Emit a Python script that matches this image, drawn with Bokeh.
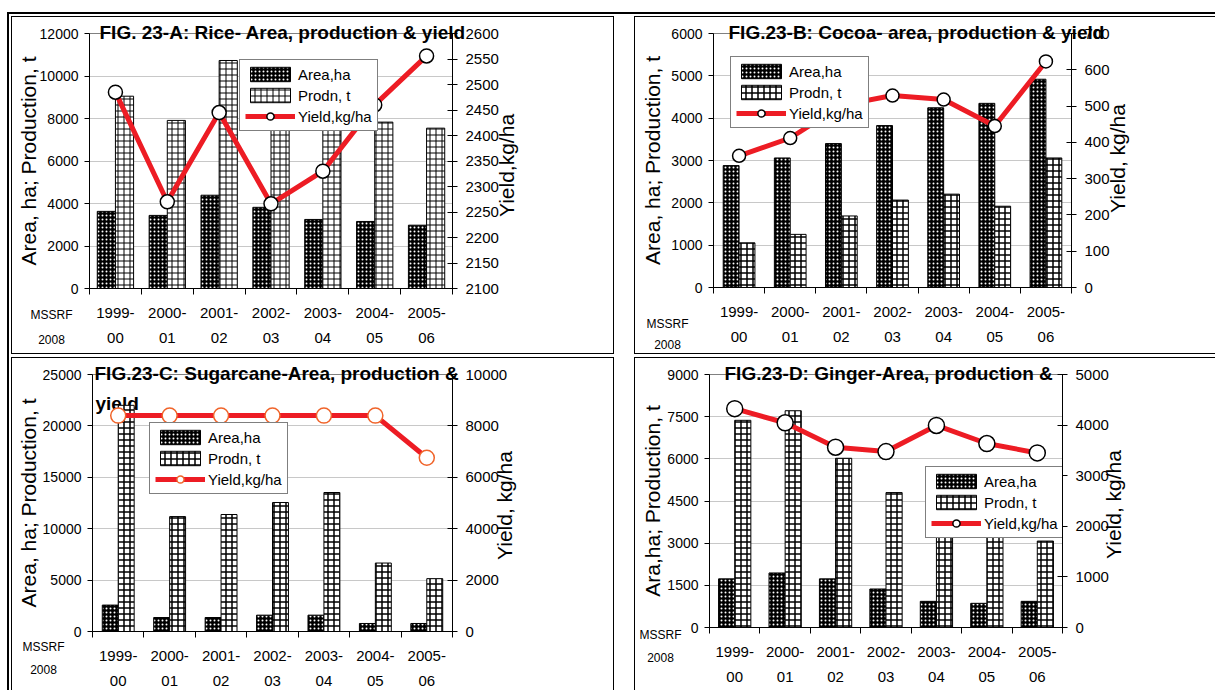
import math
from bokeh.plotting import figure
from bokeh.models import (ColumnDataSource, Range1d, LinearAxis, FixedTicker, Grid,
                          Legend, LegendItem, Label)
from bokeh.layouts import row, column
from bokeh.transform import dodge
from bokeh.embed import file_html
from bokeh.resources import INLINE

# ---------------- data ----------------
period_top = ["1999-", "2000-", "2001-", "2002-", "2003-", "2004-", "2005-"]
period_bottom = ["00", "01", "02", "03", "04", "05", "06"]

rice_area = [3630, 3440, 4390, 3820, 3250, 3155, 2980]
rice_prodn = [9050, 7910, 10730, 8650, 7580, 7830, 7545]
rice_yield = [2485, 2270, 2445, 2266, 2330, 2460, 2556]

cocoa_area = [2880, 3060, 3400, 3825, 4245, 4350, 4920]
cocoa_prodn = [1055, 1255, 1690, 2065, 2205, 1920, 3060]
cocoa_yield = [363, 412, 502, 529, 518, 445, 623]

sugar_area = [2570, 1360, 1360, 1590, 1590, 780, 780]
sugar_prodn = [22000, 11180, 11380, 12550, 13520, 6660, 5140]
sugar_yield = [8400, 8400, 8400, 8400, 8400, 8400, 6760]

ginger_area = [1730, 1940, 1730, 1370, 930, 860, 930]
ginger_prodn = [7370, 7710, 6020, 4800, 3710, 3220, 3075]
ginger_yield = [4325, 4046, 3563, 3477, 3993, 3636, 3450]

rice_left_ticks = [0, 2000, 4000, 6000, 8000, 10000, 12000]
rice_right_ticks = [2100, 2150, 2200, 2250, 2300, 2350, 2400, 2450, 2500, 2550, 2600]
cocoa_left_ticks = [0, 1000, 2000, 3000, 4000, 5000, 6000]
cocoa_right_ticks = [0, 100, 200, 300, 400, 500, 600, 700]
sugar_left_ticks = [0, 5000, 10000, 15000, 20000, 25000]
sugar_right_ticks = [0, 2000, 4000, 6000, 8000, 10000]
ginger_left_ticks = [0, 1500, 3000, 4500, 6000, 7500, 9000]
ginger_right_ticks = [0, 1000, 2000, 3000, 4000, 5000]

legend_labels = ["Area,ha", "Prodn, t", "Yield,kg/ha"]
source_note = "MSSRF\n2008"

FONT = "Liberation Sans"
RED = "#ED1C24"
Y2LAB_W = 21  # width taken by the rotated right-hand axis title


def make_panel(cfg):
    fl, ft, fr, fb = cfg["frame"]
    ox, oy, cw, ch = cfg["canvas"]
    fw, fh = fr - fl, fb - ft
    bl, bt = fl - ox, ft - oy
    br, bb = cw - bl - fw, ch - bt - fh

    lt, rt = cfg["left_ticks"], cfg["right_ticks"]
    n = len(period_top)
    xs = list(range(1, n + 1))
    p = figure(frame_width=fw, frame_height=fh,
               min_border_left=bl, min_border_right=br,
               min_border_top=bt, min_border_bottom=bb,
               x_range=Range1d(0.5, n + 0.5), y_range=Range1d(lt[0], lt[-1]),
               x_axis_type=None, y_axis_type=None,
               output_backend="svg", toolbar_location=None,
               background_fill_color="white", border_fill_color="white",
               outline_line_color="#808080", outline_line_width=1)
    p.extra_y_ranges = {"y2": Range1d(rt[0], rt[-1])}

    # title overlapping the top edge of the plot area
    p.title.text = cfg["title"]
    p.title.align = "left"
    p.title.offset = cfg["title_x"] - fl
    p.title.standoff = -18
    p.title.vertical_align = "bottom"
    p.title.text_font = FONT
    p.title.text_font_size = "19px"
    p.title.text_font_style = "bold"
    p.title.text_color = "black"

    lax = LinearAxis(ticker=FixedTicker(ticks=lt), major_tick_out=5, major_tick_in=0,
                     minor_tick_out=0, minor_tick_in=0, major_label_standoff=6,
                     major_label_text_font=FONT, major_label_text_font_size="14px",
                     major_label_text_color="black", axis_line_color="black",
                     major_tick_line_color="black",
                     axis_label=cfg["ylab"], axis_label_standoff=cfg["ylab_s"],
                     axis_label_text_font=FONT, axis_label_text_font_size="21px",
                     axis_label_text_font_style="normal", axis_label_text_color="black")
    p.add_layout(lax, "left")
    rax = LinearAxis(y_range_name="y2", ticker=FixedTicker(ticks=rt), major_tick_out=5,
                     major_tick_in=5, minor_tick_out=0, minor_tick_in=0,
                     major_label_standoff=8, major_label_text_font=FONT,
                     major_label_text_font_size="15px", major_label_text_color="black",
                     axis_line_color="black", major_tick_line_color="black")
    p.add_layout(rax, "right")

    bx1 = LinearAxis(ticker=FixedTicker(ticks=xs, minor_ticks=[x - 0.5 for x in xs] + [n + 0.5]),
                     major_label_overrides={x: t for x, t in zip(xs, period_top)},
                     major_tick_out=0, major_tick_in=0, minor_tick_out=6, minor_tick_in=0,
                     minor_tick_line_color="black", axis_line_color="black",
                     major_label_standoff=13, major_label_text_font=FONT,
                     major_label_text_font_size="15px", major_label_text_color="black")
    p.add_layout(bx1, "below")
    bx2 = LinearAxis(ticker=FixedTicker(ticks=xs),
                     major_label_overrides={x: t for x, t in zip(xs, period_bottom)},
                     major_tick_out=0, major_tick_in=0, minor_tick_out=0, minor_tick_in=0,
                     axis_line_color=None, major_tick_line_color=None,
                     minor_tick_line_color=None, major_label_standoff=12,
                     major_label_text_font=FONT, major_label_text_font_size="15px",
                     major_label_text_color="black")
    p.add_layout(bx2, "below")

    p.add_layout(Grid(dimension=1, ticker=lax.ticker, grid_line_color="#c8c8c8",
                      grid_line_width=1))

    src = ColumnDataSource(dict(x=xs, area=cfg["area"], prodn=cfg["prodn"], yld=cfg["yield"]))
    bw = cfg["bar_w"]
    ra = p.vbar(x=dodge("x", -bw / 2), top="area", width=bw, source=src,
                fill_color="black", hatch_pattern="dot", hatch_color="white",
                hatch_scale=4, hatch_weight=1, line_color="black", line_width=1)
    rp = p.vbar(x=dodge("x", bw / 2), top="prodn", width=bw, source=src,
                fill_color="white", hatch_pattern="cross", hatch_color="black",
                hatch_scale=cfg["brick_scale"], hatch_weight=cfg["brick_w"],
                line_color="black", line_width=1)
    rl = p.line(x="x", y="yld", source=src, y_range_name="y2", line_color=RED,
                line_width=5)
    rm = p.scatter(x="x", y="yld", source=src, y_range_name="y2", marker="circle",
                   size=cfg["msize"], fill_color="white", line_color=cfg["mcolor"],
                   line_width=1.5)

    lx, ly = cfg["legend"]
    leg = Legend(items=[LegendItem(label=legend_labels[0], renderers=[ra]),
                        LegendItem(label=legend_labels[1], renderers=[rp]),
                        LegendItem(label=legend_labels[2], renderers=[rl, rm])],
                 location=(lx - fl, fb - ly), label_text_font=FONT,
                 label_text_font_size="15px", label_text_color="black",
                 glyph_width=50, glyph_height=18, label_height=18, label_standoff=3,
                 spacing=3, padding=5, margin=0, border_line_color="black",
                 border_line_width=1, background_fill_color="white",
                 background_fill_alpha=1.0)
    if cfg.get("legend_under"):
        leg.level = "underlay"
    p.add_layout(leg, "center")

    # second title line (C only), inside the plot area, under the marks
    if cfg.get("title2"):
        txt, (px, py) = cfg["title2"]
        p.add_layout(Label(x=px - fl, y=fb - py, x_units="screen", y_units="screen",
                           text=txt, text_font=FONT, text_font_style="bold",
                           text_font_size="19px", text_color="black", text_align="left",
                           text_baseline="middle", level="underlay"))

    # right-hand axis title (reads bottom to top), in the right side panel
    yx, yy = cfg["y2lab_pos"]
    left1 = fr + cfg["rax_w"]
    p.add_layout(Label(x=yx - left1, y=fb - yy, x_units="screen", y_units="screen",
                       text=cfg["y2lab"], text_font=FONT, text_font_size="21px",
                       text_color="black", angle=math.pi / 2, text_align="center",
                       text_baseline="middle"), "right")

    # source note, next side panel
    sx, sy = cfg["src_pos"]
    left2 = left1 + Y2LAB_W
    p.add_layout(Label(x=sx - left2, y=fb - sy, x_units="screen",
                       y_units="screen", text=source_note, text_font=FONT,
                       text_font_size="12px", text_color="black", text_align="center",
                       text_baseline="middle", text_line_height=cfg["src_lh"]), "right")
    p.styles = cfg["styles"]
    return p


pA = make_panel(dict(
    frame=(89, 33, 450, 286), canvas=(12, 17, 601, 336),
    left_ticks=rice_left_ticks, right_ticks=rice_right_ticks,
    area=rice_area, prodn=rice_prodn, bar_w=0.35,
    brick_scale=6, brick_w=1, msize=14, mcolor="black",
    legend=(239, 129), **{"yield": rice_yield},
    title="FIG. 23-A: Rice- Area, production & yield", title_x=99,
    ylab="Area, ha; Production, t", ylab_s=-3,
    y2lab="Yield,kg/ha", y2lab_pos=(507, 163), rax_w=52,
    src_pos=(50, 325), src_lh=1.74,
    styles={"border": "1px solid black"}))

pB = make_panel(dict(
    frame=(713, 32, 1070, 284), canvas=(635, 17, 580, 336),
    left_ticks=cocoa_left_ticks, right_ticks=cocoa_right_ticks,
    area=cocoa_area, prodn=cocoa_prodn, bar_w=0.31,
    brick_scale=6, brick_w=1.5, msize=13, mcolor="black",
    legend=(730, 125), legend_under=True, **{"yield": cocoa_yield},
    title="FIG.23-B: Cocoa- area, production & yield", title_x=728,
    ylab="Area, ha; Production, t", ylab_s=4,
    y2lab="Yield, kg/ha", y2lab_pos=(1118, 155), rax_w=43,
    src_pos=(666, 331), src_lh=1.45,
    styles={"border-top": "1px solid black", "border-left": "1px solid black",
            "border-bottom": "1px solid black"}))

pC = make_panel(dict(
    frame=(92, 373, 450, 629), canvas=(12, 358, 601, 332),
    left_ticks=sugar_left_ticks, right_ticks=sugar_right_ticks,
    area=sugar_area, prodn=sugar_prodn, bar_w=0.31,
    brick_scale=6, brick_w=1.5, msize=15, mcolor="#F0642A",
    legend=(149, 492), **{"yield": sugar_yield},
    title="FIG.23-C: Sugarcane-Area, production &", title_x=94,
    title2=("yield", (95, 401)),
    ylab="Area, ha; Production, t", ylab_s=0,
    y2lab="Yield, kg/ha", y2lab_pos=(507, 503), rax_w=63,
    src_pos=(44, 656), src_lh=1.67,
    styles={"border-top": "1px solid black", "border-left": "1px solid black",
            "border-right": "1px solid black"}))

pD = make_panel(dict(
    frame=(709, 374, 1061, 626), canvas=(635, 358, 580, 332),
    left_ticks=ginger_left_ticks, right_ticks=ginger_right_ticks,
    area=ginger_area, prodn=ginger_prodn, bar_w=0.32,
    brick_scale=6, brick_w=1.5, msize=16, mcolor="black",
    legend=(925, 537), **{"yield": ginger_yield},
    title="FIG.23-D:  Ginger-Area, production &", title_x=724,
    ylab="Ara,ha; Production, t", ylab_s=0,
    y2lab="Yield, kg/ha", y2lab_pos=(1116, 503), rax_w=53,
    src_pos=(661, 645), src_lh=1.67,
    styles={"border-top": "1px solid black", "border-left": "1px solid black"}))

root = column(row(pA, pB, spacing=20), row(pC, pD, spacing=20), spacing=3,
              styles={"margin-left": "7px", "margin-top": "12px",
                      "border-top": "2px solid black", "border-left": "2px solid black",
                      "padding-left": "2px", "padding-top": "2px"})

open("out.html", "w").write(file_html(root, INLINE))
